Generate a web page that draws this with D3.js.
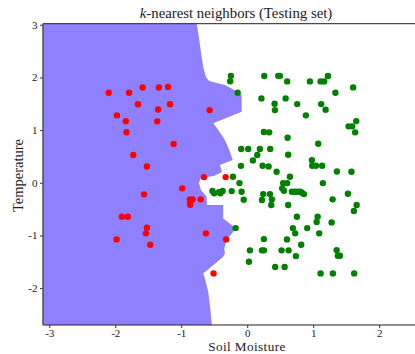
<!DOCTYPE html>
<html>
<head>
<meta charset="utf-8">
<script src="https://cdn.jsdelivr.net/npm/d3@7"></script>
<style>
  html, body { margin: 0; padding: 0; background: #fff; }
  svg { display: block; }
  text { font-family: "Liberation Serif", "DejaVu Serif", serif; fill: #222; }
</style>
</head>
<body>
<div id="chart"></div>
<script>
// ticks
const xTicks = [-3, -2, -1, 0, 1, 2];
const yTicks = [-2, -1, 0, 1, 2, 3];

// decision boundary of the blue (class 0) region, top to bottom
const boundary = [
  [-0.777, 3.10], [-0.742, 2.842], [-0.706, 2.52], [-0.667, 2.20], [-0.626, 2.01],
  [-0.576, 1.93], [-0.338, 1.855], [-0.212, 1.773], [-0.085, 1.665], [-0.085, 1.348],
  [-0.515, 1.128], [-0.439, 1.0], [-0.388, 0.906], [-0.338, 0.81], [-0.262, 0.589],
  [-0.221, 0.431], [-0.414, 0.336], [-0.383, 0.203], [-0.505, 0.127], [-0.702, 0.089],
  [-0.732, -0.006], [-0.702, -0.139], [-0.615, -0.266], [-0.611, -0.423], [-0.364, -0.423],
  [-0.364, -0.676], [-0.236, -0.803], [-0.179, -0.87], [-0.212, -0.93], [-0.312, -1.088],
  [-0.348, -1.245], [-0.338, -1.34], [-0.364, -1.405], [-0.667, -1.72], [-0.641, -1.815],
  [-0.591, -2.07], [-0.555, -2.45], [-0.53, -2.80]
];

// class 0 test points (red)
const redPoints = [
  [-2.10, 1.71], [-1.79, 1.71], [-1.585, 1.81], [-1.338, 1.81], [-1.20, 1.82],
  [-1.656, 1.49], [-1.35, 1.39], [-1.17, 1.49], [-0.57, 1.38], [-1.974, 1.28],
  [-1.84, 1.17], [-1.364, 1.166], [-1.83, 0.96], [-1.115, 0.735], [-1.727, 0.526],
  [-1.52, 0.31], [-0.656, 0.108], [-0.327, 0.108], [-0.985, -0.106], [-1.565, -0.22],
  [-0.868, -0.315], [-0.827, -0.315], [-0.868, -0.372], [-0.864, -0.418], [-0.706, -0.315],
  [-1.90, -0.646], [-1.81, -0.646], [-1.52, -0.854], [-1.535, -0.96], [-0.626, -0.96],
  [-1.98, -1.075], [-1.47, -1.177], [-0.32, -1.075], [-0.51, -1.72]
];

// class 1 test points (green)
const greenPoints = [
  [-0.247, 2.03], [-0.258, 1.927], [-0.145, 1.709], [0.258, 2.026], [0.47, 2.03],
  [0.495, 2.03], [0.606, 1.925], [0.95, 1.925], [1.112, 1.925], [1.167, 1.925],
  [1.223, 2.026], [1.336, 1.709], [1.605, 1.811], [0.215, 1.602], [0.415, 1.50],
  [0.582, 1.602], [0.758, 1.494], [0.42, 1.38], [1.121, 1.494], [1.188, 1.386],
  [0.889, 1.28], [1.536, 1.071], [1.591, 1.071], [1.652, 1.171], [1.636, 0.957],
  [0.253, 0.963], [0.333, 0.957], [0.612, 0.854], [1.076, 0.74], [-0.091, 0.64],
  [0.015, 0.64], [0.192, 0.64], [0.348, 0.64], [0.152, 0.526], [0.621, 0.532],
  [0.086, 0.425], [0.98, 0.431], [-0.095, 0.321], [0.233, 0.323], [0.324, 0.311],
  [0.985, 0.323], [1.041, 0.323], [1.136, 0.323], [0.445, 0.209], [1.359, 0.213],
  [1.579, 0.209], [0.647, 0.114], [-0.217, 0.114], [-0.118, -0.006], [0.545, -0.006],
  [0.606, -0.006], [1.147, -0.006], [0.53, -0.106], [0.556, -0.152], [-0.527, -0.154],
  [-0.50, -0.201], [-0.429, -0.177], [-0.406, -0.201], [-0.373, -0.154], [-0.235, -0.158],
  [-0.085, -0.171], [-0.053, -0.323], [0.242, -0.215], [0.344, -0.215], [0.223, -0.328],
  [0.374, -0.315], [0.364, -0.423], [0.621, -0.423], [0.677, -0.171], [0.723, -0.171],
  [0.764, -0.171], [0.803, -0.171], [0.829, -0.19], [0.859, -0.215], [1.294, -0.315],
  [1.526, -0.209], [1.658, -0.423], [1.617, -0.537], [0.753, -0.646], [1.067, -0.646],
  [1.052, -0.746], [1.279, -0.752], [0.692, -0.86], [0.727, -0.96], [0.909, -0.86],
  [1.091, -0.96], [-0.176, -0.86], [0.253, -1.069], [0.602, -1.075], [0.818, -1.177],
  [0.041, -1.283], [0.223, -1.283], [0.253, -1.283], [0.521, -1.283], [0.627, -1.283],
  [1.355, -1.278], [1.374, -1.386], [1.405, -1.386], [0.738, -1.392], [0.026, -1.50],
  [0.424, -1.60], [0.567, -1.60], [1.112, -1.72], [1.298, -1.72], [1.621, -1.72]
];

const width = 415, height = 354;
const plot = { left: 43, right: 430, top: 23.7, bottom: 325 };

const x = d3.scaleLinear().domain([-3.095, 2.77]).range([plot.left, plot.right]);
const y = d3.scaleLinear().domain([-2.70, 3.02]).range([plot.bottom, plot.top]);

const svg = d3.select('#chart').append('svg')
  .attr('width', width)
  .attr('height', height);

svg.append('clipPath').attr('id', 'clip')
  .append('rect')
  .attr('x', plot.left).attr('y', plot.top)
  .attr('width', plot.right - plot.left).attr('height', plot.bottom - plot.top);

const g = svg.append('g').attr('clip-path', 'url(#clip)');

// blue region: left edge of the plot plus the boundary
const [x0] = x.domain();
const [y0, y1] = y.domain();
const region = [[x0 - 0.1, y1 + 0.1], ...boundary, [x0 - 0.1, y0 - 0.1]];

g.append('path')
  .datum(region)
  .attr('fill', '#8f80ff')
  .attr('stroke', 'none')
  .attr('d', d3.line().x(d => x(d[0])).y(d => y(d[1])));

g.selectAll('.red')
  .data(redPoints)
  .join('circle')
  .attr('class', 'red')
  .attr('cx', d => x(d[0]))
  .attr('cy', d => y(d[1]))
  .attr('r', 3.2)
  .attr('fill', '#ff0000');

g.selectAll('.green')
  .data(greenPoints)
  .join('circle')
  .attr('class', 'green')
  .attr('cx', d => x(d[0]))
  .attr('cy', d => y(d[1]))
  .attr('r', 3.2)
  .attr('fill', '#008000');

// axes
const xAxis = svg.append('g')
  .attr('transform', `translate(0,${plot.bottom})`)
  .call(d3.axisBottom(x).tickValues(xTicks).tickSize(3).tickPadding(1)
    .tickFormat(d => String(d)));

const yAxis = svg.append('g')
  .attr('transform', `translate(${plot.left},0)`)
  .call(d3.axisLeft(y).tickValues(yTicks).tickSize(3).tickPadding(2.5)
    .tickFormat(d => String(d)));

[xAxis, yAxis].forEach(a => {
  a.select('.domain').remove();
  a.selectAll('.tick line').attr('stroke', '#333').attr('stroke-width', 1);
  a.selectAll('.tick text')
    .style('font-family', '"Liberation Serif", serif')
    .style('font-size', '11px')
    .attr('fill', '#222');
});

// spines
svg.append('line')
  .attr('x1', plot.left).attr('x2', plot.right)
  .attr('y1', plot.top).attr('y2', plot.top)
  .attr('stroke', '#222').attr('stroke-width', 1);
svg.append('line')
  .attr('x1', plot.left).attr('x2', plot.right)
  .attr('y1', plot.bottom).attr('y2', plot.bottom)
  .attr('stroke', '#222').attr('stroke-width', 1.2);
svg.append('line')
  .attr('x1', plot.left).attr('x2', plot.left)
  .attr('y1', plot.top).attr('y2', plot.bottom)
  .attr('stroke', '#555').attr('stroke-width', 1.6);

// title and labels
const title = svg.append('text')
  .attr('x', 236).attr('y', 17.5)
  .attr('text-anchor', 'middle')
  .style('font-size', '14.8px');
title.append('tspan').style('font-style', 'italic').text('k');
title.append('tspan').text('-nearest neighbors (Testing set)');

svg.append('text')
  .attr('x', 247).attr('y', 351)
  .attr('text-anchor', 'middle')
  .style('font-size', '13.2px')
  .style('letter-spacing', '0.4px')
  .text('Soil Moisture');

svg.append('text')
  .attr('transform', 'translate(23,175.5) rotate(-90)')
  .attr('text-anchor', 'middle')
  .style('font-size', '14.5px')
  .text('Temperature');
</script>
</body>
</html>
